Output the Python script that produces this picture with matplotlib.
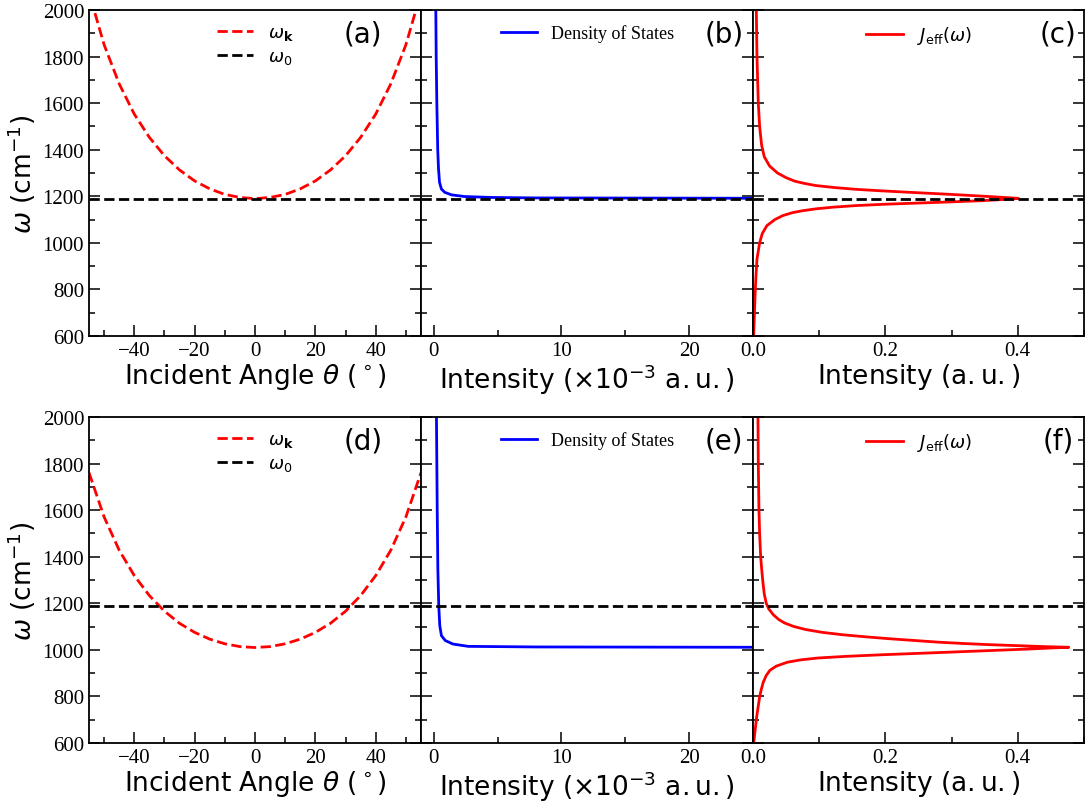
import matplotlib
matplotlib.use("Agg")
import matplotlib.pyplot as plt
from matplotlib.ticker import MultipleLocator

plt.rcParams['font.family'] = ['DejaVu Sans']
plt.rcParams['mathtext.fontset'] = 'dejavusans'

# ---------------- data ----------------
omega0 = 1190.0  # bare molecular frequency (cm^-1)

theta_deg = [-55, -50, -45, -40, -35, -30, -25, -20, -15, -10, -5, 0,
             5, 10, 15, 20, 25, 30, 35, 40, 45, 50, 55]
omega_k_top = [2075, 1851, 1683, 1553, 1453, 1374, 1313, 1266, 1232, 1208, 1195, 1190,
               1195, 1208, 1232, 1266, 1313, 1374, 1453, 1553, 1683, 1851, 2075]
omega_k_bot = [1761, 1571, 1428, 1319, 1233, 1166, 1114, 1075, 1046, 1026, 1014, 1010,
               1014, 1026, 1046, 1075, 1114, 1166, 1233, 1319, 1428, 1571, 1761]

# density of states (x1e-3 a.u.) vs omega
dos_omega_top = [1191.5, 1193, 1195, 1199, 1206, 1217, 1231, 1260, 1320, 1400, 1600, 1800, 2000]
dos_top = [26, 8, 4.5, 2.4, 1.4, 0.86, 0.6, 0.45, 0.37, 0.31, 0.24, 0.19, 0.16]
dos_omega_bot = [1011, 1012.5, 1015, 1025, 1040, 1061, 1104, 1190, 1347, 1600, 1800, 2000]
dos_bot = [26, 8, 2.7, 1.5, 0.9, 0.6, 0.47, 0.39, 0.32, 0.27, 0.24, 0.21]

# effective spectral density J_eff (a.u.) vs omega
j_omega_top = [600, 700, 780, 860, 930, 1000, 1040, 1074, 1100, 1117, 1130, 1138, 1146,
               1153, 1160, 1166, 1171, 1176, 1181, 1185, 1188, 1191,
               1194, 1197, 1200, 1204, 1208, 1213, 1218, 1224, 1230, 1237, 1246,
               1255, 1265, 1280, 1300, 1330, 1370, 1420, 1500, 1600, 1800, 2000]
j_top = [0.001, 0.0022, 0.0032, 0.0045, 0.006, 0.010, 0.014, 0.021, 0.033, 0.045, 0.060, 0.075, 0.095,
         0.120, 0.155, 0.200, 0.250, 0.300, 0.345, 0.370, 0.390, 0.401,
         0.385, 0.368, 0.350, 0.325, 0.300, 0.265, 0.230, 0.190, 0.155, 0.125, 0.095,
         0.078, 0.063, 0.050, 0.037, 0.025, 0.017, 0.013, 0.010, 0.008, 0.006, 0.005]
j_omega_bot = [597, 650, 712, 750, 798, 830, 861, 890, 912, 930, 947, 957, 965, 972,
               979, 985, 990, 995, 1000, 1004, 1008, 1011,
               1014, 1018, 1022, 1027, 1033, 1040, 1048, 1056, 1065, 1075, 1087, 1100,
               1115, 1130, 1150, 1175, 1200, 1240, 1290, 1350, 1400, 1500, 1600, 1800, 2000]
j_bot = [0.001, 0.003, 0.0055, 0.0075, 0.010, 0.0125, 0.0155, 0.020, 0.0255, 0.035, 0.052, 0.072, 0.098, 0.140,
         0.195, 0.250, 0.296, 0.340, 0.385, 0.420, 0.450, 0.477,
         0.440, 0.400, 0.360, 0.320, 0.280, 0.245, 0.205, 0.170, 0.135, 0.105, 0.080, 0.062,
         0.048, 0.039, 0.031, 0.024, 0.020, 0.017, 0.015, 0.013, 0.0116, 0.010, 0.009, 0.008, 0.0075]

panel_letters = ['(a)', '(b)', '(c)', '(d)', '(e)', '(f)']
yticks = [600, 800, 1000, 1200, 1400, 1600, 1800, 2000]
theta_ticks = [-40, -20, 0, 20, 40]
theta_ticklabels = ['\u221240', '\u221220', '0', '20', '40']
j_ticks = [0.0, 0.2, 0.4]
j_ticklabels = ['0.0', '0.2', '0.4']

# ---------------- figure ----------------
W, H = 1085, 804
fig = plt.figure(figsize=(W / 100, H / 100), dpi=100)

col_x = [89, 421, 753]
col_w = [332, 332, 331]
row_top = [11, 418]
row_h = 326

serif = 'Liberation Serif'
tick_fs = 15
label_fs = 19
leg_fs = 13

def make_ax(r, c):
    x0 = col_x[c] / W
    y0 = 1 - (row_top[r] + row_h) / H
    ax = fig.add_axes([x0, y0, col_w[c] / W, row_h / H])
    ax.set_ylim(600, 2000)
    ax.yaxis.set_major_locator(MultipleLocator(200))
    ax.yaxis.set_minor_locator(MultipleLocator(100))
    ax.tick_params(which='both', direction='in', left=True, right=True, top=False,
                   labelsize=tick_fs, labelfontfamily=serif, width=1.1)
    ax.tick_params(which='major', length=8)
    ax.tick_params(which='minor', length=4)
    for s in ax.spines.values():
        s.set_linewidth(1.3)
    return ax

rows = [
    (omega_k_top, dos_omega_top, dos_top, j_omega_top, j_top),
    (omega_k_bot, dos_omega_bot, dos_bot, j_omega_bot, j_bot),
]

for r, (wk, dw, dv, jw, jv) in enumerate(rows):
    # dispersion panel
    ax = make_ax(r, 0)
    ax.plot(theta_deg, wk, 'r--', lw=2, label=r'$\omega_{\mathbf{k}}$')
    ax.axhline(omega0, color='k', ls='--', lw=2, label=r'$\omega_0$')
    ax.set_xlim(-55, 55)
    ax.xaxis.set_minor_locator(MultipleLocator(10))
    ax.set_xticks(theta_ticks)
    ax.set_xticklabels(theta_ticklabels)
    ax.set_yticks(yticks)
    ax.set_xlabel(r'Incident Angle $\theta\ (^\circ)$', fontsize=label_fs, labelpad=1)
    ax.set_ylabel(r'$\omega$ (cm$^{-1}$)', fontsize=label_fs, labelpad=3)
    ax.legend(loc='upper left', bbox_to_anchor=(0.353, 0.99), frameon=False,
              prop={'family': serif, 'size': leg_fs}, handlelength=2.0,
              labelspacing=0.35, borderaxespad=0.2)
    ax.text(0.825, 0.928, panel_letters[3 * r], transform=ax.transAxes,
            fontsize=20, ha='center', va='center')

    # density of states panel
    ax = make_ax(r, 1)
    ax.plot(dv, dw, color='b', lw=2, label='Density of States')
    ax.axhline(omega0, color='k', ls='--', lw=2)
    ax.set_xlim(-1, 25)
    ax.xaxis.set_major_locator(MultipleLocator(10))
    ax.xaxis.set_minor_locator(MultipleLocator(5))
    ax.set_yticklabels([])
    ax.set_xlabel(r'Intensity $(\times10^{-3}\ \mathrm{a.u.})$', fontsize=label_fs, labelpad=1)
    ax.legend(loc='upper left', bbox_to_anchor=(0.207, 0.99), frameon=False,
              prop={'family': serif, 'size': leg_fs}, handlelength=2.0, borderaxespad=0.2)
    ax.text(0.913, 0.928, panel_letters[3 * r + 1], transform=ax.transAxes,
            fontsize=20, ha='center', va='center')

    # effective spectral density panel
    ax = make_ax(r, 2)
    ax.plot(jv, jw, color='r', lw=2, label=r'$J_{\mathrm{eff}}(\omega)$')
    ax.axhline(omega0, color='k', ls='--', lw=2)
    ax.set_xlim(0, 0.5)
    ax.xaxis.set_minor_locator(MultipleLocator(0.1))
    ax.set_xticks(j_ticks)
    ax.set_xticklabels(j_ticklabels)
    ax.set_yticklabels([])
    ax.set_xlabel(r'Intensity $(\mathrm{a.u.})$', fontsize=label_fs, labelpad=1)
    ax.legend(loc='upper left', bbox_to_anchor=(0.31, 0.99), frameon=False,
              prop={'family': serif, 'size': leg_fs}, handlelength=2.0, borderaxespad=0.2)
    ax.text(0.921, 0.928, panel_letters[3 * r + 2], transform=ax.transAxes,
            fontsize=20, ha='center', va='center')

fig.savefig('out.png', dpi=100)
